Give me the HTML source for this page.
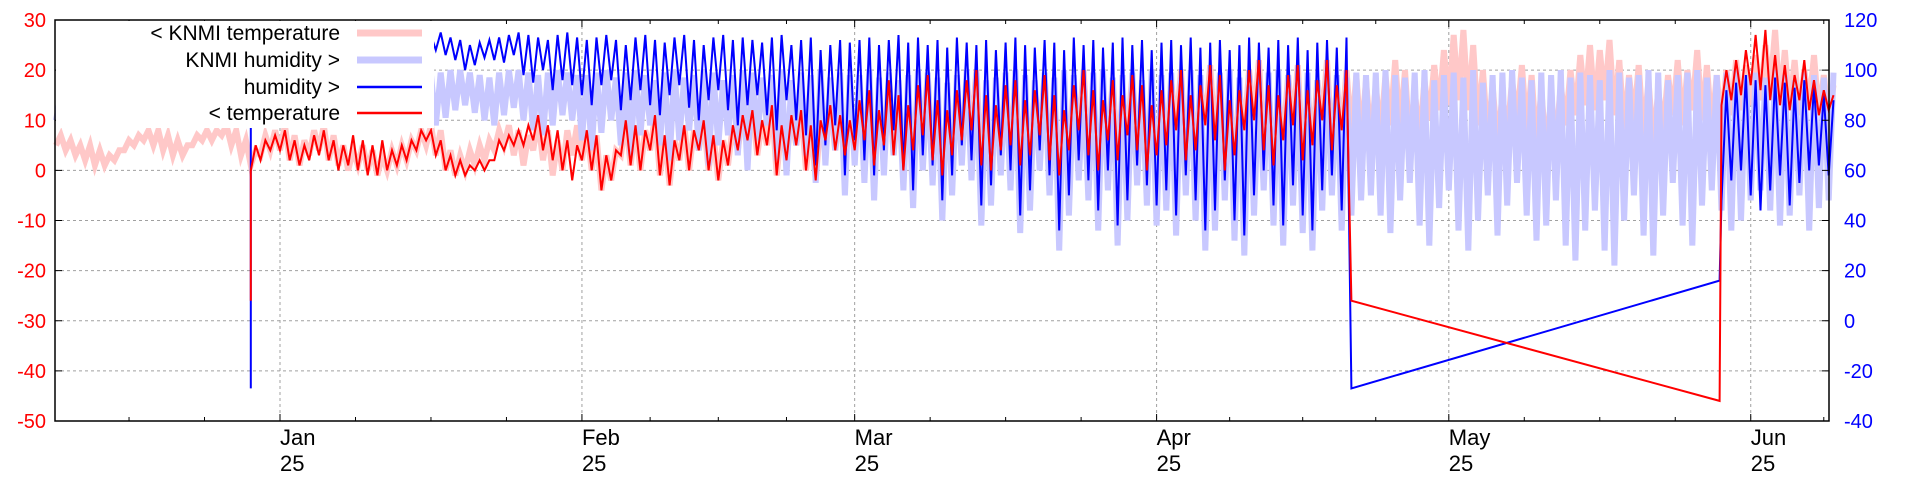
<!DOCTYPE html>
<html><head><meta charset="utf-8">
<style>
html,body{margin:0;padding:0;background:#fff;}
svg{display:block;font-family:"Liberation Sans",sans-serif;}
</style></head>
<body>
<svg id="chart" width="1920" height="480" viewBox="0 0 1920 480" xmlns="http://www.w3.org/2000/svg">
<g id="grid"></g>
<g id="series"></g>
<g id="axes"></g>
<g id="legend"></g>
</svg>
<script>
// ---- data (day offsets relative to "Jan 25" tick) ----
const monthLabels = ["Jan","Feb","Mar","Apr","May","Jun"];
const monthDays = [0,31,59,90,120,151];
const yearLabel = "25";
const tempTicks = [30,20,10,0,-10,-20,-30,-40,-50];
const humTicks = [120,100,80,60,40,20,0,-20,-40];
const knmiStartDay = -23;
const knmiTmax = [7,6,5,5,4,3,4,6,7,8,8,7,6,5,7,8,8,9,8,6,
 4,7,8,9,7,6,8,9,7,5, 4,5,4,3,4,5,6,8,9,8,
 4,3,4,5,6,8,9,8,7,10,8,6,8,9,
 8,7,3,4,10,9,8,11,7,6,9,8,10,7,6,9,
 11,12,10,13,9,11,12,9,10,13,11,10,
 14,16,12,18,15,13,17,19,14,12,16,18,20,15,13,17,
 18,14,16,19,15,12,17,20,16,14,18,15,19,17,13,16,
 18,20,15,17,21,19,14,16,20,22,17,15,19,21,16,18,22,17,20,19,18,
 17,19,22,20,16,18,21,24,27,28,25,20,17,15,18,21,19,16,14,17,20,23,25,24,26,22,19,21,18,16,19,22,20,24,21,19,20,22,
 21,23,25,28,24,22,20,23,19,17];
const knmiTmin = [5,4,3,2,1,1,2,4,5,6,5,4,3,3,5,6,6,7,5,3,
 1,3,4,4,2,1,3,4,2,1, 0,1,0,-1,0,1,2,4,5,3,
 0,-1,0,1,2,4,5,3,1,4,2,-1,0,3,
 2,0,-4,-2,3,1,0,4,-1,-3,2,0,4,0,-2,1,
 4,6,3,5,-1,2,5,0,-2,6,4,3,
 4,6,1,5,3,0,4,7,2,-1,3,6,8,1,0,4,
 5,1,3,7,2,-1,4,8,3,0,6,2,7,4,0,3,
 5,8,2,4,9,6,0,3,8,10,4,1,6,9,2,5,10,4,8,7,6,
 6,7,9,8,5,6,10,12,13,14,12,9,6,5,7,10,8,5,4,6,9,11,13,12,14,11,8,10,7,5,8,11,9,12,10,8,9,11,
 12,13,14,16,13,12,11,13,11,10];
const knmiHmax = [90,93,96,97,98,99,100,99,98,97,98,99,100,100,99,98,97,98,99,99,
 99,100,100,99,98,99,100,100,99,98,100,100,99,98,99,100,100,99,98,99,100,100,99,98,97,99,100,100,99,98,99,100,99,98,
 98,99,100,97,99,100,98,96,99,100,97,98,100,99,96,98,100,99,97,98,100,96,99,98,100,97,99,98,
 98,100,97,99,96,98,100,99,97,95,98,100,99,96,97,99,100,98,96,99,97,100,98,95,99,100,97,98,99,96,100,98,
 99,97,100,98,96,99,100,97,98,95,99,100,98,97,99,96,100,98,97,99,98,
 99,100,98,97,99,100,96,98,99,97,100,95,98,99,100,97,96,99,98,100,97,99,98,96,100,99,97,98,100,99,96,98,99,100,97,98,99,100,
 98,99,97,100,98,96,99,98,97,99];
const knmiHmin = [80,82,84,83,85,87,86,84,82,85,88,86,84,82,80,83,85,87,84,82,
 84,86,88,85,83,82,85,87,89,86,84,82,80,83,86,88,85,82,80,78,81,84,86,83,80,78,82,85,80,76,74,78,82,80,
 72,68,75,80,70,66,74,78,70,64,72,76,68,62,70,74,66,60,72,78,64,58,70,66,55,62,68,50,
 62,55,48,58,66,52,45,60,54,40,50,62,56,38,46,58,52,35,44,60,50,28,42,56,48,36,52,30,40,54,46,38,
 44,34,50,40,28,36,48,32,26,42,52,38,30,46,35,28,44,50,36,42,48,
 50,42,35,48,55,38,30,45,52,36,28,40,50,34,46,55,42,32,38,48,30,24,36,44,28,22,40,50,34,26,42,55,38,30,46,52,44,36,
 40,48,52,44,38,42,50,36,45,48];
// measured series
const measStartDay = -3;
const tMax = [5,6,7,8,6,5,7,8,6,5,7,6,5,6,4,5,6,8,8,
 6,3,2,1,2,2,6,7,8,9,11,9,8,6,5,
 8,7,3,4,10,9,8,11,7,6,9,8,10,7,6,9,11,12,10,13,9,11,12,9,10,13,11,10,
 14,16,12,18,15,13,17,19,14,12,16,18,20,15,13,17,18,14,16,19,15,12,17,20,16,14,18,15,19,17,13,16,
 18,20,15,17,21,19,14,16,20,22,17,15,19,21,16,18,22,17,20];
const tMin = [0,2,4,4,2,1,2,3,2,0,1,0,-1,-1,0,1,2,4,6,
 3,0,-1,-1,0,0,2,4,5,5,6,4,2,0,-2,
 2,0,-4,-2,3,1,0,4,-1,-3,2,0,4,0,-2,1,4,6,3,5,-1,2,5,0,-2,6,4,3,
 4,6,1,5,3,0,4,7,2,-1,3,6,8,1,0,4,5,1,3,7,2,-1,4,8,3,0,6,2,7,4,0,3,
 5,8,2,4,9,6,0,3,8,10,4,1,6,9,2,5,10,4,8];
const hMax = [100,102,104,106,108,110,112,113,114,113,112,114,115,114,113,112,114,115,114,
 115,113,112,110,111,112,113,114,115,114,113,112,114,115,113,
 112,113,114,112,110,113,114,112,111,113,114,112,110,113,114,112,113,112,111,113,114,110,112,113,108,110,112,111,
 112,113,110,112,114,111,113,110,112,109,113,111,110,112,108,111,113,110,109,112,111,108,113,110,112,109,111,113,110,112,108,111,
 112,110,113,109,111,112,108,110,113,111,109,112,110,113,108,111,112,109,113];
const hMin = [95,97,98,99,100,102,104,105,106,104,103,105,106,104,103,104,105,106,104,
 108,106,104,100,102,105,104,103,106,98,95,100,92,96,94,
 90,86,94,96,84,88,92,86,82,90,94,85,80,88,92,84,78,86,90,82,76,88,80,74,62,70,78,58,
 72,64,58,68,76,60,52,66,62,48,58,70,64,46,54,66,60,42,52,68,58,36,50,64,56,44,60,38,48,62,54,46,
 52,42,58,48,36,44,56,40,34,50,60,46,38,54,42,36,52,58,44];
const glitchDays = [110, 147.8];
const tGlitch = [-26, -46];
const hGlitch = [-27, 16];
const tStartGlitch = -26;
const hStartGlitch = -27;
const meas2StartDay = 148;
const tMax2 = [20,22,24,27,28,23,21,19,22,18,16,15];
const tMin2 = [13,14,15,17,16,14,13,12,14,12,11,12];
const hMax2 = [92,95,98,96,94,97,95,93,96,94,90,88];
const hMin2 = [48,56,60,50,44,52,58,46,55,60,62,58];

// ---- axes functions ----
const L=55,R=1829,T=20,B=421;
const X0=280, PXD=9.74;
function xs(d){return X0+d*PXD;}
function yt(t){return T+(30-t)*(B-T)/80;}
function yh(h){return T+(120-h)*(B-T)/160;}
const NS="http://www.w3.org/2000/svg";
function mk(tag,attrs,parent){const e=document.createElementNS(NS,tag);for(const k in attrs)e.setAttribute(k,attrs[k]);parent.appendChild(e);return e;}

const grid=document.getElementById('grid'), axes=document.getElementById('axes'), ser=document.getElementById('series'), leg=document.getElementById('legend');

// grid horizontal
tempTicks.forEach((t,i)=>{
  const y=yt(t);
  if(t!==30&&t!==-50){
    const g=mk('line',{x1:L,x2:R,y1:y,y2:y,stroke:'#a0a0a0','stroke-width':1,'stroke-dasharray':'3,3'},grid);
    
    
  }
  const tk=mk('line',{x1:L,x2:L+7,y1:y,y2:y,stroke:'#000'},axes);
  
  
  const tx=mk('text',{x:L-9,y:y+7,'text-anchor':'end','font-size':20,fill:'#ff0000'},axes);
  tx.textContent=t;
  
  
});
humTicks.forEach(h=>{
  const y=yh(h);
  const tk=mk('line',{x1:R-7,x2:R,y1:y,y2:y,stroke:'#000'},axes);
  
  
  const tx=mk('text',{x:R+15,y:y+7,'text-anchor':'start','font-size':20,fill:'#0000ff'},axes);
  tx.textContent=h;
  
  
});
// month grid + labels
monthDays.forEach((d,i)=>{
  const x=xs(d);
  const g=mk('line',{x1:x,x2:x,y1:T,y2:B,stroke:'#a0a0a0','stroke-width':1,'stroke-dasharray':'3,3'},grid);
  
  
  const t1=mk('text',{x:x,y:445,'font-size':22,fill:'#000'},axes);
  t1.textContent=monthLabels[i];
  
  
  const t2=mk('text',{x:x,y:471,'font-size':22,fill:'#000'},axes);
  t2.textContent=yearLabel;
  
  
});
// minor ticks (quarter months)
const bounds=[-31,0,31,59,90,120,151,181];
for(let m=0;m<bounds.length-1;m++){
  for(let q=0;q<4;q++){
    const d=bounds[m]+(bounds[m+1]-bounds[m])*q/4;
    const x=xs(d); if(x<L||x>R) continue;
    const len=q===0?7:4;
    const a=mk('line',{x1:x,x2:x,y1:B,y2:B-len,stroke:'#000'},axes);
    
    
    const b=mk('line',{x1:x,x2:x,y1:T,y2:T+len,stroke:'#000'},axes);
    
    
  }
}
const frame=mk('rect',{x:L,y:T,width:R-L,height:B-T,fill:'none',stroke:'#000','stroke-width':1.5},axes);



// series builders
function zig(start,mins,maxs,yf,pts){
  for(let i=0;i<mins.length;i++){
    pts.push([xs(start+i),yf(mins[i])]);
    pts.push([xs(start+i+0.5),yf(maxs[i])]);
  }
  return pts;
}
function poly(pts,color,w,name){
  const p=mk('polyline',{points:pts.map(p=>p[0].toFixed(1)+','+p[1].toFixed(1)).join(' '),fill:'none',stroke:color,'stroke-width':w,'stroke-linejoin':'miter'},ser);
  
  
}
poly(zig(knmiStartDay,knmiTmin,knmiTmax,yt,[]),'#ffc8c8',6,'knmi-temperature-line');
poly(zig(knmiStartDay,knmiHmin,knmiHmax,yh,[]),'#c8c8ff',6,'knmi-humidity-line');
let hp=[[xs(measStartDay),yh(hStartGlitch)]];
zig(measStartDay,hMin,hMax,yh,hp);
glitchDays.forEach((d,i)=>hp.push([xs(d),yh(hGlitch[i])]));
zig(meas2StartDay,hMin2,hMax2,yh,hp);
poly(hp,'#0000ff',2,'humidity-line');
let tp=[[xs(measStartDay),yt(tStartGlitch)]];
zig(measStartDay,tMin,tMax,yt,tp);
glitchDays.forEach((d,i)=>tp.push([xs(d),yt(tGlitch[i])]));
zig(meas2StartDay,tMin2,tMax2,yt,tp);
poly(tp,'#ff0000',2,'temperature-line');

// legend
const lb=mk('rect',{x:L+1,y:T+1,width:378,height:107,fill:'#fff'},leg);


const legNames=["< KNMI temperature","KNMI humidity >","humidity >","< temperature"];
const legColors=['#ffc8c8','#c8c8ff','#0000ff','#ff0000'];
const legW=[7,7,2.5,2.5];
const legY=[33,60,87,113];
legNames.forEach((n,i)=>{
  const t=mk('text',{x:340,y:legY[i]+7,'text-anchor':'end','font-size':21,fill:'#000'},leg);
  t.textContent=n;
  
  
  const l=mk('line',{x1:357,x2:422,y1:legY[i],y2:legY[i],stroke:legColors[i],'stroke-width':legW[i]},leg);
  
  
});
</script>
</body></html>
